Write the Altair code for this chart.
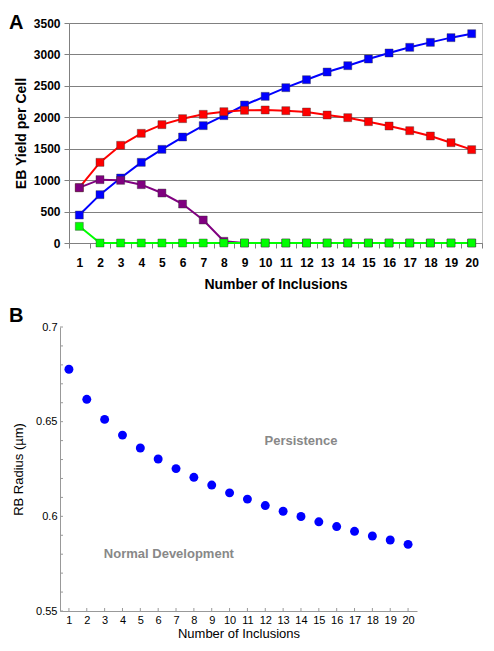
import altair as alt
import pandas as pd

inclusions = list(range(1, 21))
series_names = ["blue", "red", "purple", "green"]
series_colors = ["#0000FF", "#FF0000", "#800080", "#00FF00"]
blue_vals = [445, 769, 1034, 1283, 1490, 1686, 1867, 2026, 2195, 2333,
             2471, 2598, 2720, 2821, 2927, 3023, 3113, 3192, 3267, 3330]
red_vals = [880, 1283, 1554, 1745, 1883, 1978, 2047, 2089, 2111, 2116,
            2105, 2084, 2036, 1994, 1930, 1861, 1787, 1702, 1596, 1485]
purple_vals = [880, 1008, 997, 928, 795, 620, 366, 27, 0, 0,
               0, 0, 0, 0, 0, 0, 0, 0, 0, 0]
green_vals = [265, 0, 0, 0, 0, 0, 0, 0, 0, 0,
              0, 0, 0, 0, 0, 0, 0, 0, 0, 0]
yield_ticks = [0, 500, 1000, 1500, 2000, 2500, 3000, 3500]

radius_vals = [0.6777, 0.6618, 0.6512, 0.6429, 0.6361, 0.6303, 0.6252, 0.6206,
               0.6165, 0.6124, 0.6091, 0.6057, 0.6027, 0.5999, 0.5971, 0.5946,
               0.5921, 0.5896, 0.5875, 0.5852]
radius_major = [0.55, 0.6, 0.65, 0.7]
radius_minor = [0.55, 0.56, 0.57, 0.58, 0.59, 0.60, 0.61, 0.62,
                0.63, 0.64, 0.65, 0.66, 0.67, 0.68, 0.69, 0.70]
notes = ["Persistence", "Normal Development"]
note_x = [14.0, 6.6]
note_y = [0.6396, 0.580]

FONT = "Liberation Sans"

rows = []
for name, vals in zip(series_names, [blue_vals, red_vals, purple_vals, green_vals]):
    for n, v in zip(inclusions, vals):
        rows.append({"n": n, "y": v, "s": name})
df_top = pd.DataFrame(rows)

xa = alt.X("n:O", scale=alt.Scale(type="band", paddingInner=0, paddingOuter=0),
           axis=alt.Axis(title="Number of Inclusions", labelAngle=0, tickBand="extent",
                         labelFont=FONT, labelFontSize=12, labelFontWeight="bold",
                         labelColor="black", labelPadding=9, tickSize=5,
                         tickColor="#808080", domainColor="#808080",
                         titleFont=FONT, titleFontSize=14, titleFontWeight="bold",
                         titleColor="black", titlePadding=9))
ya = alt.Y("y:Q", scale=alt.Scale(domain=[0, 3500], nice=False),
           axis=alt.Axis(title="EB Yield per Cell", values=yield_ticks, format="d",
                         labelFont=FONT, labelFontSize=12, labelFontWeight="bold",
                         labelColor="black", labelPadding=4, tickSize=5,
                         tickColor="#808080", domainColor="#808080",
                         grid=True, gridColor="#808080",
                         titleFont=FONT, titleFontSize=14, titleFontWeight="bold",
                         titleColor="black", titlePadding=5))
col = alt.Color("s:N", scale=alt.Scale(domain=series_names, range=series_colors), legend=None)

base_top = alt.Chart(df_top)
lines = base_top.mark_line(strokeWidth=2).encode(x=xa, y=ya, color=col, detail="s:N")
pts = base_top.mark_point(shape="square", filled=True, size=64, opacity=1,
                          stroke="#333333", strokeWidth=0.4).encode(
    x=xa, y=ya, color=col)
lab_a = alt.Chart(pd.DataFrame({"t": ["A"]})).mark_text(
    font=FONT, fontSize=20, fontWeight="bold", align="left", baseline="alphabetic"
).encode(text="t:N", x=alt.value(-60), y=alt.value(6))

top = alt.layer(lines, pts, lab_a).properties(
    width=413, height=220,
    view=alt.ViewBackground(stroke="#c0c0c0", strokeWidth=1))

df_bot = pd.DataFrame({"n": inclusions, "r": radius_vals})
xb = alt.X("n:Q", scale=alt.Scale(domain=[0.5, 20.5], range=[-9, 348], nice=False, zero=False),
           axis=alt.Axis(title="Number of Inclusions", values=inclusions, format="d",
                         ticks=False, grid=False, labelOverlap=False,
                         labelFont=FONT, labelFontSize=11, labelColor="black",
                         labelPadding=3, domainColor="#999999", labelFlush=False,
                         titleFont=FONT, titleFontSize=13, titleFontWeight="normal",
                         titleColor="black", titlePadding=2))
yb = alt.Y("r:Q", scale=alt.Scale(domain=[0.55, 0.7], nice=False, zero=False),
           axis=alt.Axis(title="RB Radius (µm)", values=radius_major, format=".2~f",
                         ticks=False, grid=False, labelOverlap=False,
                         offset=9, labelFont=FONT, labelFontSize=11, labelColor="black",
                         labelPadding=3, domainColor="#999999", labelFlush=False,
                         titleFont=FONT, titleFontSize=13, titleFontWeight="normal",
                         titleColor="black", titlePadding=10))
dots = alt.Chart(df_bot).mark_circle(size=80, color="#0000FF", opacity=1).encode(x=xb, y=yb)
ytick = alt.Chart(pd.DataFrame({"r": radius_minor})).mark_rule(color="#999999").encode(
    y=yb, x=alt.value(-9), x2=alt.value(-6))
xtick = alt.Chart(pd.DataFrame({"n": inclusions})).mark_rule(color="#999999").encode(
    x=xb, y=alt.value(284), y2=alt.value(281))
df_notes = pd.DataFrame({"t": notes, "n": note_x, "r": note_y})
note_marks = alt.Chart(df_notes).mark_text(
    font=FONT, fontSize=13, fontWeight="bold", color="#888888"
).encode(x=xb, y=yb, text="t:N")
lab_b = alt.Chart(pd.DataFrame({"t": ["B"]})).mark_text(
    font=FONT, fontSize=20, fontWeight="bold", align="left", baseline="alphabetic"
).encode(text="t:N", x=alt.value(-60), y=alt.value(-5))

bottom = alt.layer(dots, ytick, xtick, note_marks, lab_b).properties(
    width=348, height=284,
    view=alt.ViewBackground(stroke=None))

chart = alt.vconcat(top, bottom, spacing=14).properties(
    padding={"left": 0, "top": 4, "right": 0, "bottom": 0}
).configure_view(stroke=None)

chart.save("out.html", embed_options={"renderer": "svg", "actions": False})
